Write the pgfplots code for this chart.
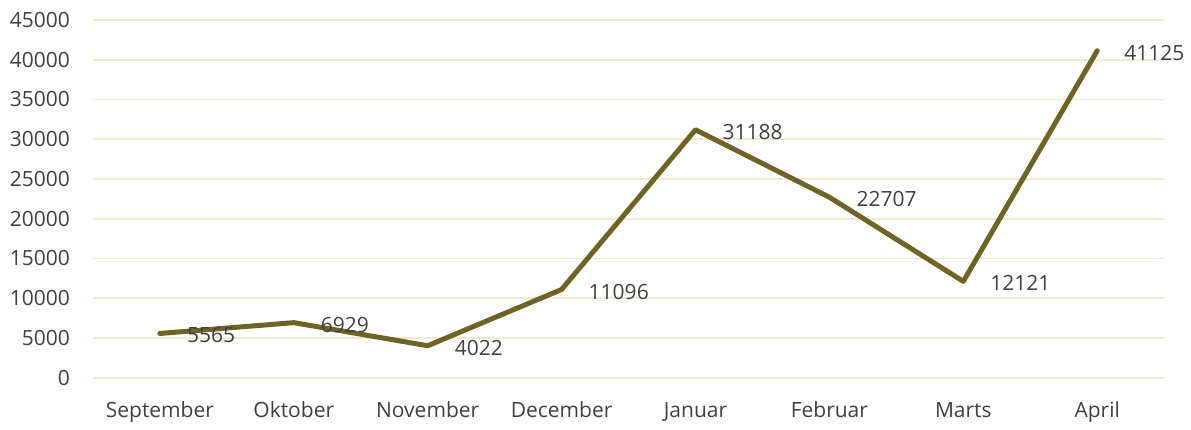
\documentclass[border=0pt]{standalone}
\usepackage{fontspec}
\setmainfont{Open Sans}
\usepackage{pgfplots}
\pgfplotsset{compat=1.18}

\definecolor{lineol}{HTML}{6E6425}
\definecolor{gridc}{HTML}{EEEAD3}
\definecolor{txt}{HTML}{404040}

\begin{document}
\begin{tikzpicture}
  \begin{axis}[
    scale only axis,
    width=536pt, height=179pt,
    xmin=-0.5, xmax=7.5,
    ymin=0, ymax=45000,
    xtick={0,...,7},
    xticklabels={September,Oktober,November,December,Januar,Februar,Marts,April},
    ytick={0,5000,...,45000},
    scaled y ticks=false,
    /pgf/number format/1000 sep={},
    /pgf/number format/assume math mode=true,
    axis line style={draw=none},
    major tick length=0pt,
    ymajorgrids=true,
    grid style={gridc, line width=0.8pt},
    tick label style={font=\fontsize{10.5}{12}\selectfont, text=txt},
    yticklabel style={xshift=-8pt},
    xticklabel style={yshift=-8.5pt, text height=8pt, text depth=2.5pt},
    nodes near coords,
    every node near coord/.append style={font=\fontsize{10.5}{12}\selectfont,
      text=txt, anchor=west, xshift=9pt, yshift=-1pt},
    clip=false,
  ]
    \addplot[lineol, line width=2.5pt, line join=round, line cap=round] coordinates {
      (0,5565) (1,6929) (2,4022) (3,11096)
      (4,31188) (5,22707) (6,12121) (7,41125)
    };
  \end{axis}
  \path (current axis.south west) ++(-46.5pt,-21.5pt) rectangle ++(595.5pt,210.5pt);
\end{tikzpicture}
\end{document}
